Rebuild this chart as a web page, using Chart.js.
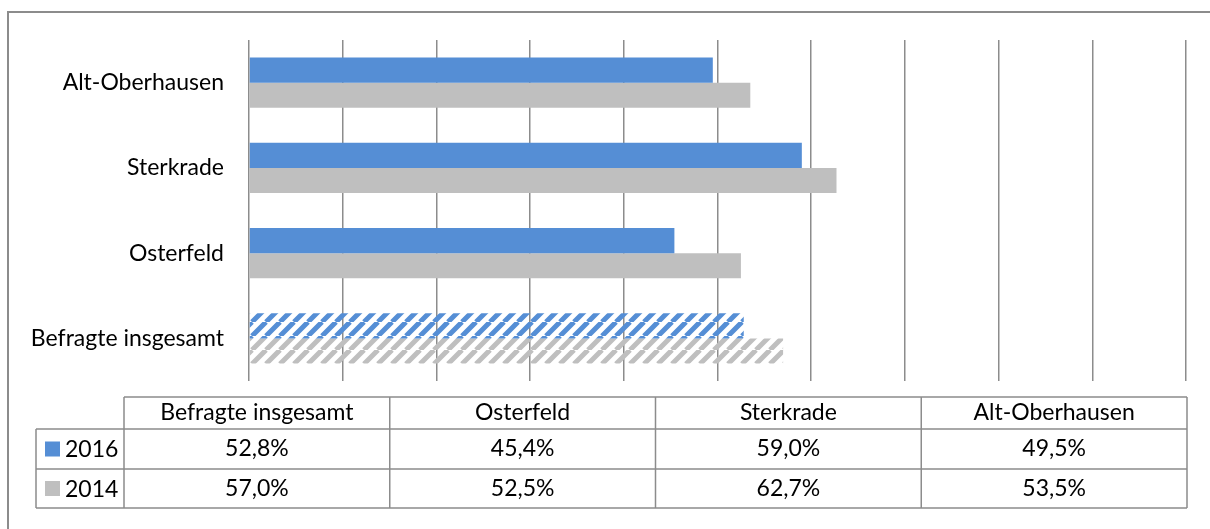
<!DOCTYPE html>
<html>
<head>
<meta charset="utf-8">
<script src="https://cdn.jsdelivr.net/npm/chart.js@4"></script>
<style>
  html, body { margin: 0; padding: 0; background: #fff; }
  #wrap { width: 1210px; height: 529px; }
</style>
</head>
<body>
<div id="wrap"><canvas id="chart"></canvas></div>
<script>
// Daten (Reihenfolge wie in der Tabelle)
const kategorien = ["Befragte insgesamt", "Osterfeld", "Sterkrade", "Alt-Oberhausen"];
const jahre = ["2016", "2014"];
const werte2016 = [52.8, 45.4, 59.0, 49.5];
const werte2014 = [57.0, 52.5, 62.7, 53.5];
const tabelle2016 = ["52,8%", "45,4%", "59,0%", "49,5%"];
const tabelle2014 = ["57,0%", "52,5%", "62,7%", "53,5%"];

const blau = "#558ed5";
const grau = "#bfbfbf";
const linie = "#8c8c8c";
const familie = "Lato, 'Open Sans', sans-serif";
const schrift = "23px " + familie;

// Schraffur fuer "Befragte insgesamt"
function schraffur(farbe) {
  const n = 14;
  const c = document.createElement("canvas");
  c.width = n; c.height = n;
  const g = c.getContext("2d");
  g.strokeStyle = farbe;
  g.lineWidth = 5;
  g.beginPath();
  for (let o = -n; o <= 2 * n; o += n) {
    g.moveTo(o, n);
    g.lineTo(o + n, 0);
  }
  g.stroke();
  return g.createPattern(c, "repeat");
}

const farben2016 = kategorien.map((k, i) => i === 0 ? schraffur(blau) : blau);
const farben2014 = kategorien.map((k, i) => i === 0 ? schraffur(grau) : grau);

// Rahmen und Datentabelle unter dem Diagramm
const tabellePlugin = {
  id: "tabelle",
  afterDraw(chart) {
    const ctx = chart.ctx;
    const area = chart.chartArea;
    ctx.save();
    ctx.strokeStyle = linie;
    ctx.lineWidth = 2;
    ctx.strokeRect(8, 12, 1220, 540);

    const links = 36, spalteStart = 124, rechts = area.right + 1;
    const yKopf = 397, yZeile1 = 429, yZeile2 = 469, yUnten = 508;
    const breite = (rechts - spalteStart) / kategorien.length;

    ctx.lineWidth = 1.5;
    ctx.beginPath();
    ctx.moveTo(spalteStart, yKopf); ctx.lineTo(rechts, yKopf);
    ctx.moveTo(links, yZeile1); ctx.lineTo(rechts, yZeile1);
    ctx.moveTo(links, yZeile2); ctx.lineTo(rechts, yZeile2);
    ctx.moveTo(links, yUnten); ctx.lineTo(rechts, yUnten);
    ctx.moveTo(links, yZeile1); ctx.lineTo(links, yUnten);
    for (let i = 0; i <= kategorien.length; i++) {
      const x = spalteStart + i * breite;
      ctx.moveTo(x, yKopf); ctx.lineTo(x, yUnten);
    }
    ctx.stroke();

    ctx.font = schrift;
    ctx.fillStyle = "#000";
    ctx.textBaseline = "middle";
    ctx.textAlign = "center";
    kategorien.forEach((k, i) => {
      const mx = spalteStart + (i + 0.5) * breite;
      ctx.fillText(k, mx, (yKopf + yZeile1) / 2);
      ctx.fillText(tabelle2016[i], mx, (yZeile1 + yZeile2) / 2);
      ctx.fillText(tabelle2014[i], mx, (yZeile2 + yUnten) / 2);
    });

    // Legende in der ersten Spalte
    ctx.textAlign = "left";
    [[jahre[0], blau, (yZeile1 + yZeile2) / 2], [jahre[1], grau, (yZeile2 + yUnten) / 2]].forEach(([t, f, y]) => {
      ctx.fillStyle = f;
      ctx.fillRect(45, y - 7.5, 15, 15);
      ctx.fillStyle = "#000";
      ctx.fillText(t, 65, y + 1);
    });
    ctx.restore();
  }
};

new Chart(document.getElementById("chart"), {
  type: "bar",
  data: {
    labels: kategorien,
    datasets: [
      { label: jahre[0], data: werte2016, backgroundColor: farben2016 },
      { label: jahre[1], data: werte2014, backgroundColor: farben2014 }
    ]
  },
  options: {
    indexAxis: "y",
    responsive: true,
    maintainAspectRatio: false,
    animation: false,
    layout: { padding: { top: 40, right: 24, bottom: 148, left: 0 } },
    datasets: { bar: { barPercentage: 1, categoryPercentage: 0.59 } },
    plugins: { legend: { display: false }, tooltip: { enabled: false } },
    scales: {
      x: {
        min: 0, max: 100,
        ticks: { display: false, stepSize: 10 },
        grid: { color: linie, lineWidth: 1.5, drawTicks: false },
        border: { display: false }
      },
      y: {
        reverse: true,
        afterFit(s) { s.width = 249; },
        ticks: { color: "#000", font: { family: familie, size: 23 }, padding: 25 },
        grid: { display: false, drawTicks: false },
        border: { display: false }
      }
    }
  },
  plugins: [tabellePlugin]
});
</script>
</body>
</html>
